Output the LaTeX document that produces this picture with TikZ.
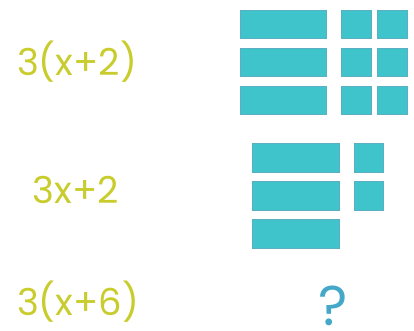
\documentclass[tikz,border=0pt]{standalone}
\usepackage{fontspec}
\setmainfont{Poppins}
\definecolor{tealfill}{HTML}{3EC4CA}
\definecolor{tealedge}{HTML}{5AAFC0}
\definecolor{exprcol}{HTML}{C8CC2C}
\definecolor{qcol}{HTML}{45A8C8}
\begin{document}
\begin{tikzpicture}[x=1pt,y=-1pt,
  tile/.style={fill=tealfill,draw=tealedge,line width=0.6pt},
  expr/.style={text=exprcol,font=\fontsize{37}{40}\selectfont,inner sep=0pt,anchor=center}]
\useasboundingbox (0,0) rectangle (414,331);
% top group 3(x+2)
\foreach \y in {10,48,86}{
  \draw[tile] (240,\y) rectangle (326,\y+28);
  \draw[tile] (341,\y) rectangle (371,\y+28);
  \draw[tile] (377,\y) rectangle (407,\y+28);
}
% middle group 3x+2
\foreach \y in {143,181,219}{
  \draw[tile] (252,\y) rectangle (339,\y+29);
}
\foreach \y in {143,181}{
  \draw[tile] (354,\y) rectangle (383,\y+29);
}
\node[expr] (e1) at (77,62) {3(x+2)};
\node[expr] (e2) at (76,190) {3x+2};
\node[expr] (e3) at (78,302) {3(x+6)};
\node[text=qcol,font=\fontsize{56}{60}\selectfont,inner sep=0pt,anchor=base] (q) at (333,325) {?};
\end{tikzpicture}
\end{document}
